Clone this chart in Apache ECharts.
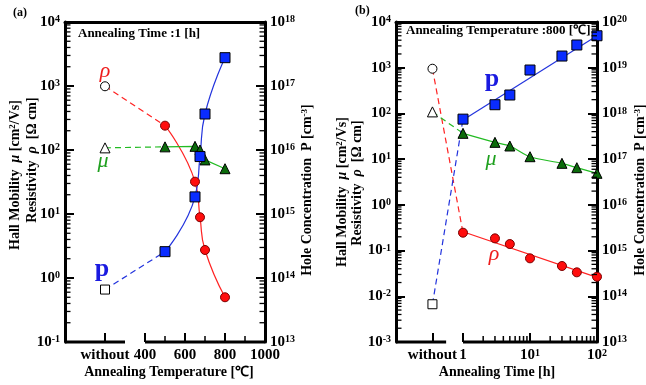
<!DOCTYPE html>
<html>
<head>
<meta charset="utf-8">
<script src="https://cdn.jsdelivr.net/npm/echarts@6/dist/echarts.min.js"></script>
<style>html,body{margin:0;padding:0;background:#fff}#chart{width:646px;height:385px}</style>
</head>
<body>
<div id="chart"></div>
<script>
// ---- (a) annealing time 1 h, x = annealing temperature ----
const tempA = [500, 650, 675, 700, 800];
const rhoA = [240, 32, 8.9, 2.74, 0.5];
const muA = [112, 114, 100, 70, 51];
const pA = [2.58e14, 1.85e15, 7.9e15, 3.65e16, 2.77e17];
// sample "without" annealing
const rhoA0 = 990, muA0 = 108, pA0 = 6.6e13;

// ---- (b) annealing temperature 800 C, x = annealing time ----
const timeB = [1, 3, 5, 10, 30, 50, 100];
const rhoB = [0.246, 0.185, 0.139, 0.0676, 0.046, 0.0334, 0.0268];
const muB = [36.7, 23.3, 19.4, 11.3, 8.1, 6.5, 4.9];
const pB = [7.5e17, 1.55e18, 2.53e18, 8.9e18, 1.8e19, 3.14e19, 5.0e19];
const rhoB0 = 950, muB0 = 108, pB0 = 6.7e13;
// straight fit lines drawn in (b)
const rhoFitB = [[1, 0.258], [100, 0.026]];
const pFitB = [[1, 7.2e17], [100, 5.0e19]];

// ---- axes ----
const tempTicks = [400, 600, 800, 1000];
const tempMinor = [500, 700, 900];
const timeTicks = [1, 10, 100];
const WITHOUT_A = 200;   // where "without" sits on the temperature axis
const WITHOUT_B = 0.35;  // where "without" sits on the time axis
const breakA = [[0, 300], [400, 1000]];
const breakB = [[0.1, 0.56], [1, 100]];

const FONT = 'Liberation Serif';
const RED = '#ff2222', GREEN = '#22bb22', BLUE = '#2233dd';

const supRich = { s: { fontFamily: FONT, fontWeight: 'bold', fontSize: 10, verticalAlign: 'top', color: '#000' } };
const tickFont = { fontFamily: FONT, fontWeight: 'bold', fontSize: 15, color: '#000', rich: supRich };
const pow10 = v => '10{s|' + Math.round(Math.log10(v)) + '}';

function logMinor(lo, hi) {
  const out = [];
  for (let e = Math.round(Math.log10(lo)); e < Math.round(Math.log10(hi)); e++)
    for (let k = 2; k <= 9; k++) out.push(k * Math.pow(10, e));
  return out;
}

function logAxis(grid, pos, min, max) {
  return { gridIndex: grid, type: 'log', logBase: 10, min, max, position: pos,
    axisLine: { show: true, onZero: false, lineStyle: { color: '#000', width: 3 } },
    axisTick: { inside: true, length: 9, lineStyle: { color: '#000', width: 2 } },
    axisLabel: Object.assign({ formatter: pow10, margin: 5 }, tickFont),
    splitLine: { show: false } };
}
function topBorder(grid) {
  return { gridIndex: grid, type: 'value', position: 'top', min: 0, max: 1,
    axisLine: { show: true, onZero: false, lineStyle: { color: '#000', width: 3 } },
    axisTick: { show: false }, axisLabel: { show: false }, splitLine: { show: false } };
}

// broken bottom axis line + minor ticks, drawn through the axes' own scales
function frame(xi, yi, cfg) {
  return { type: 'custom', xAxisIndex: xi, yAxisIndex: yi, silent: true, clip: false, z: 4,
    data: [[cfg.x0, cfg.y0]],
    renderItem: function (params, api) {
      const kids = [];
      const line = (a, b, w) => kids.push({ type: 'line',
        shape: { x1: a[0], y1: a[1], x2: b[0], y2: b[1] }, style: { stroke: '#000', lineWidth: w } });
      (cfg.segs || []).forEach(s => line(api.coord([s[0], cfg.y0]), api.coord([s[1], cfg.y0]), 3));
      (cfg.xMinor || []).forEach(v => { const p = api.coord([v, cfg.y0]); line(p, [p[0], p[1] - 6], 1.5); });
      (cfg.yMinor || []).forEach(v => { const p = api.coord([cfg.x0, v]); line(p, [p[0] + cfg.dir * 5.5, p[1]], 1.3); });
      return { type: 'group', children: kids };
    } };
}

const zip = (xs, ys) => xs.map((x, i) => [x, ys[i]]);
function curve(xi, yi, data, color, extra) {
  return Object.assign({ type: 'line', xAxisIndex: xi, yAxisIndex: yi, data, symbol: 'none',
    clip: false, z: 2, lineStyle: { color, width: 1.2 } }, extra || {});
}
function dashed(xi, yi, data, color) {
  return curve(xi, yi, data, color, { lineStyle: { color, width: 1.2, type: [6, 4] } });
}
function marks(xi, yi, data, symbol, size, fill, border) {
  return { type: 'scatter', xAxisIndex: xi, yAxisIndex: yi, data, symbol, symbolSize: size,
    clip: false, z: 3, itemStyle: { color: fill, borderColor: border, borderWidth: 1, opacity: 1 } };
}

const titleRich = {
  i: { fontFamily: FONT, fontWeight: 'bold', fontStyle: 'italic', fontSize: 14 },
  s: { fontFamily: FONT, fontWeight: 'bold', fontSize: 9, verticalAlign: 'top' }
};
function txt(x, y, text, style, rot) {
  return { type: 'text', x, y, rotation: rot || 0, silent: true,
    style: Object.assign({ text, fontFamily: FONT, fontWeight: 'bold', fontSize: 14, fill: '#000',
      align: 'center', verticalAlign: 'middle', rich: titleRich }, style || {}) };
}
const V = Math.PI / 2;

const chart = echarts.init(document.getElementById('chart'));
chart.setOption({
  animation: false,
  backgroundColor: '#fff',
  grid: [
    { left: 65, top: 22, width: 200, height: 320, outerBoundsMode: 'none' },
    { left: 396, top: 22, width: 201, height: 320, outerBoundsMode: 'none' }
  ],
  xAxis: [
    { gridIndex: 0, type: 'value', min: 0, max: 1000, position: 'bottom',
      axisLine: { show: false },
      axisTick: { show: true, inside: true, length: 9, customValues: [WITHOUT_A].concat(tempTicks),
        lineStyle: { color: '#000', width: 2 } },
      axisLabel: Object.assign({ customValues: [WITHOUT_A].concat(tempTicks), margin: 6,
        formatter: v => v === WITHOUT_A ? 'without' : String(v) }, tickFont),
      splitLine: { show: false } },
    topBorder(0),
    { gridIndex: 1, type: 'log', logBase: 10, min: 0.1, max: 100, position: 'bottom',
      axisLine: { show: false },
      axisTick: { show: true, inside: true, length: 9, customValues: [WITHOUT_B].concat(timeTicks),
        lineStyle: { color: '#000', width: 2 } },
      axisLabel: Object.assign({ customValues: [WITHOUT_B].concat(timeTicks), margin: 6,
        formatter: v => Math.abs(v - WITHOUT_B) < 1e-6 ? 'without'
          : (Math.abs(Math.log10(v)) < 1e-6 ? '1' : pow10(v)) }, tickFont),
      splitLine: { show: false } },
    topBorder(1)
  ],
  yAxis: [
    logAxis(0, 'left', 0.1, 1e4),
    logAxis(0, 'right', 1e13, 1e18),
    logAxis(1, 'left', 1e-3, 1e4),
    logAxis(1, 'right', 1e13, 1e20)
  ],
  series: [
    frame(0, 0, { x0: 0, y0: 0.1, segs: breakA, xMinor: tempMinor, yMinor: logMinor(0.1, 1e4), dir: 1 }),
    frame(0, 1, { x0: 1000, y0: 1e13, yMinor: logMinor(1e13, 1e18), dir: -1 }),
    frame(2, 2, { x0: 0.1, y0: 1e-3, segs: breakB, xMinor: logMinor(1, 100), yMinor: logMinor(1e-3, 1e4), dir: 1 }),
    frame(2, 3, { x0: 100, y0: 1e13, yMinor: logMinor(1e13, 1e20), dir: -1 }),

    // (a) resistivity
    dashed(0, 0, [[WITHOUT_A, rhoA0], [tempA[0], rhoA[0]]], RED),
    curve(0, 0, zip(tempA, rhoA), RED, { smooth: 0.5 }),
    marks(0, 0, zip(tempA, rhoA), 'circle', 9, '#ff0d0d', '#7a0000'),
    marks(0, 0, [[WITHOUT_A, rhoA0]], 'circle', 9, '#fff', '#000'),
    // (a) mobility
    dashed(0, 0, [[WITHOUT_A, muA0], [tempA[0], muA[0]]], GREEN),
    curve(0, 0, zip(tempA, muA), GREEN),
    marks(0, 0, zip(tempA, muA), 'triangle', 10, '#0b6b0b', '#000'),
    marks(0, 0, [[WITHOUT_A, muA0]], 'triangle', 10, '#fff', '#000'),
    // (a) hole concentration (right axis)
    dashed(0, 1, [[WITHOUT_A, pA0], [tempA[0], pA[0]]], BLUE),
    curve(0, 1, zip(tempA, pA), BLUE, { smooth: 0.5 }),
    marks(0, 1, zip(tempA, pA), 'rect', 10, '#0a2cff', '#000'),
    marks(0, 1, [[WITHOUT_A, pA0]], 'rect', 9, '#fff', '#000'),

    // (b) resistivity
    dashed(2, 2, [[WITHOUT_B, rhoB0], [timeB[0], rhoB[0]]], RED),
    curve(2, 2, rhoFitB, RED),
    marks(2, 2, zip(timeB, rhoB), 'circle', 9, '#ff0d0d', '#7a0000'),
    marks(2, 2, [[WITHOUT_B, rhoB0]], 'circle', 9, '#fff', '#000'),
    // (b) mobility
    dashed(2, 2, [[WITHOUT_B, muB0], [timeB[0], muB[0]]], GREEN),
    curve(2, 2, zip(timeB, muB), GREEN, { smooth: 0.3 }),
    marks(2, 2, zip(timeB, muB), 'triangle', 10, '#0b6b0b', '#000'),
    marks(2, 2, [[WITHOUT_B, muB0]], 'triangle', 10, '#fff', '#000'),
    // (b) hole concentration (right axis)
    dashed(2, 3, [[WITHOUT_B, pB0], [timeB[0], pB[0]]], BLUE),
    curve(2, 3, pFitB, BLUE),
    marks(2, 3, zip(timeB, pB), 'rect', 10, '#0a2cff', '#000'),
    marks(2, 3, [[WITHOUT_B, pB0]], 'rect', 9, '#fff', '#000')
  ],
  graphic: [
    txt(13, 12.5, '(a)', { fontSize: 12, align: 'left' }),
    txt(355, 10.5, '(b)', { fontSize: 12, align: 'left' }),
    txt(78, 34, 'Annealing Time :1 [h]', { fontSize: 13, align: 'left' }),
    txt(406, 31, 'Annealing Temperature :800 [\u2103]', { fontSize: 13, align: 'left' }),

    txt(15, 175, 'Hall Mobility  {i|\u03bc} [cm{s|2}/Vs]', null, V),
    txt(32, 160, 'Resistivity  {i|\u03c1}  [\u03a9 cm]', null, V),
    txt(307, 190, 'Hole Concentration  P [cm{s|-3}]', null, V),
    txt(169, 372, 'Annealing Temperature [\u2103]'),

    txt(342, 192, 'Hall Mobility  {i|\u03bc} [cm{s|2}/Vs]', null, V),
    txt(357, 183, 'Resistivity  {i|\u03c1}  [\u03a9 cm]', null, V),
    txt(640, 190, 'Hole Concentration  P [cm{s|-3}]', null, V),
    txt(497, 372, 'Annealing Time [h]'),

    txt(105, 71, '\u03c1', { fontSize: 22, fontWeight: 'normal', fontStyle: 'italic', fill: '#ee1c1c' }),
    txt(103, 161, '\u03bc', { fontSize: 22, fontWeight: 'normal', fontStyle: 'italic', fill: '#1fa01f' }),
    txt(102, 269, 'p', { fontSize: 26, fill: '#1a1ae0' }),
    txt(494, 254, '\u03c1', { fontSize: 22, fontWeight: 'normal', fontStyle: 'italic', fill: '#ee1c1c' }),
    txt(491, 159, '\u03bc', { fontSize: 22, fontWeight: 'normal', fontStyle: 'italic', fill: '#1fa01f' }),
    txt(492, 79, 'p', { fontSize: 26, fill: '#1a1ae0' })
  ]
});
</script>
</body>
</html>
